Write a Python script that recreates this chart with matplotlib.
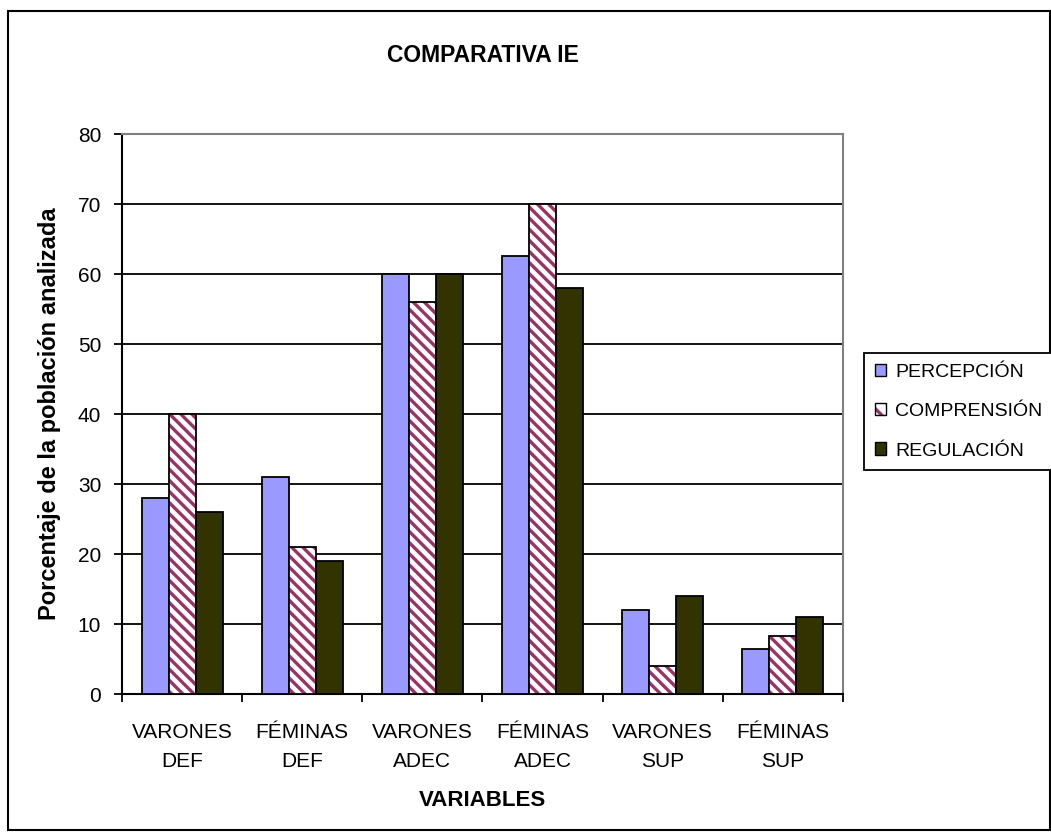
import numpy as np
import matplotlib.pyplot as plt
from matplotlib.patches import Rectangle, Patch
from matplotlib.legend_handler import HandlerTuple

plt.rcParams['font.family'] = ['Liberation Sans', 'DejaVu Sans']
plt.rcParams['hatch.linewidth'] = 2.4

categorias = ['VARONES\nDEF', 'FÉMINAS\nDEF', 'VARONES\nADEC', 'FÉMINAS\nADEC', 'VARONES\nSUP', 'FÉMINAS\nSUP']
percepcion = [28, 31, 60, 62.5, 12, 6.5]
comprension = [40, 21, 56, 70, 4, 8.3]
regulacion = [26, 19, 60, 58, 14, 11]

fig = plt.figure(figsize=(10.51, 8.38), dpi=100)
ax = fig.add_axes([122/1051, 1-694/838, (843-122)/1051, (694-134)/838])

x = np.arange(len(categorias))
w = 0.225

ax.set_axisbelow(True)
ax.yaxis.grid(True, color='black', lw=1.3)

ax.bar(x - w, percepcion, w, color='#9999FF', edgecolor='black', lw=1.3, zorder=3)
ax.bar(x, comprension, w, color='white', edgecolor='#993366', hatch='\\\\\\', lw=0, zorder=3)
ax.bar(x, comprension, w, fill=False, edgecolor='black', lw=1.3, zorder=4)
ax.bar(x + w, regulacion, w, color='#333300', edgecolor='black', lw=1.3, zorder=3)

ax.set_xlim(-0.5, len(categorias) - 0.5)
ax.set_ylim(0, 80)
ax.set_yticks(range(0, 81, 10))
ax.set_xticks(x)
ax.set_xticklabels(categorias, fontsize=15, linespacing=1.65)
ax.set_xticks(np.arange(-0.5, len(categorias)), minor=True)
ax.tick_params(axis='x', which='major', length=0, pad=21)
ax.tick_params(axis='x', which='minor', length=6, width=1.3, direction='out')
ax.tick_params(axis='y', length=6, width=1.3, direction='out', labelsize=15, pad=9)

for s in ['top', 'right']:
    ax.spines[s].set_color('#808080')
    ax.spines[s].set_linewidth(1.5)
for s in ['left', 'bottom']:
    ax.spines[s].set_linewidth(1.5)

ax.set_title('COMPARATIVA IE', fontsize=16.5, fontweight='bold', pad=52)
ax.set_ylabel('Porcentaje de la población analizada', fontsize=17, fontweight='bold', labelpad=12)
ax.set_xlabel('VARIABLES', fontsize=16, fontweight='bold', labelpad=14)

h1 = Patch(facecolor='#9999FF', edgecolor='black')
h2a = Patch(facecolor='white', edgecolor='#993366', hatch='\\\\', lw=0)
h2b = Patch(fill=False, edgecolor='black')
h3 = Patch(facecolor='#333300', edgecolor='black')
leg = fig.legend([h1, (h2a, h2b), h3], ['PERCEPCIÓN', 'COMPRENSIÓN', 'REGULACIÓN'],
                 handler_map={tuple: HandlerTuple(ndivide=1, pad=0)},
                 loc='upper left', bbox_to_anchor=(864/1051, 1-353/838),
                 bbox_transform=fig.transFigure, borderaxespad=0,
                 fontsize=14, fancybox=False, edgecolor='black',
                 handlelength=0.6, handleheight=0.6, handletextpad=0.45,
                 labelspacing=1.15, borderpad=0.55, framealpha=1)
leg.get_frame().set_linewidth(1.3)

fig.patches.append(Rectangle((8/1051, 1-830/838), 1042/1051, 819/838,
                             transform=fig.transFigure, fill=False,
                             edgecolor='black', lw=1.5))

fig.savefig('out.png', dpi=100)
